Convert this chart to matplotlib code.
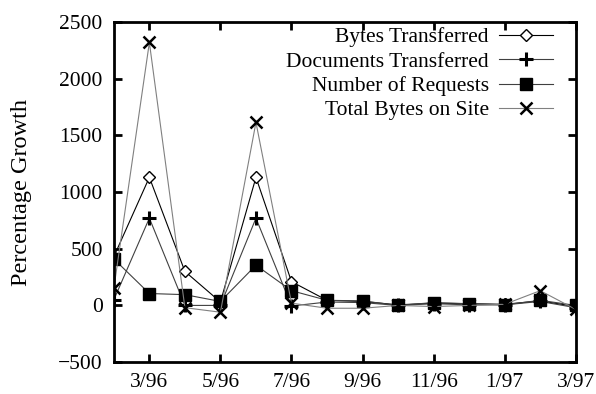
import matplotlib
matplotlib.use("Agg")
import matplotlib.pyplot as plt

months = ["2/96", "3/96", "4/96", "5/96", "6/96", "7/96", "8/96", "9/96",
          "10/96", "11/96", "12/96", "1/97", "2/97", "3/97"]
bytes_transferred = [430, 1130, 300, 30, 1130, 210, 45, 35, 5, 20, 15, 10, 40, -10]
documents_transferred = [50, 770, 0, 0, 770, -5, 30, 25, 0, 15, 5, 5, 35, -20]
number_of_requests = [410, 105, 95, 35, 355, 130, 45, 40, 0, 25, 15, 5, 45, 0]
total_bytes_on_site = [150, 2320, -20, -60, 1615, 20, -25, -25, 0, -10, 0, 10, 130, -35]
tick_labels = ["3/96", "5/96", "7/96", "9/96", "11/96", "1/97", "3/97"]
yticks = [-500, 0, 500, 1000, 1500, 2000, 2500]

plt.rcParams['font.family'] = ['Liberation Serif', 'DejaVu Serif']

fig = plt.figure(figsize=(5.96, 3.94), dpi=100)
ax = fig.add_axes([0.191, 0.081, 0.775, 0.863])

x = list(range(len(months)))
gray = '#808080'
ax.plot(x, bytes_transferred, color='black', lw=0.8, marker='D', markersize=6,
        markerfacecolor='white', markeredgecolor='black', markeredgewidth=1.0,
        label='Bytes Transferred')
ax.plot(x, documents_transferred, color='#404040', lw=0.8, marker='+', markersize=10,
        markeredgecolor='black', markeredgewidth=2.2, label='Documents Transferred')
ax.plot(x, number_of_requests, color='#404040', lw=0.8, marker='s', markersize=8.5,
        markerfacecolor='black', markeredgecolor='black', label='Number of Requests')
ax.plot(x, total_bytes_on_site, color=gray, lw=0.8, marker='x', markersize=9,
        markeredgecolor='black', markeredgewidth=1.8, label='Total Bytes on Site')

ax.set_xlim(0, len(months) - 1)
ax.set_ylim(-500, 2500)
ax.set_yticks(yticks)
ax.set_xticks([months.index(t) for t in tick_labels])
ax.set_xticklabels(tick_labels)
ax.tick_params(direction='in', length=6, width=2, top=True, right=True,
               labelsize=15.5, pad=8)
for s in ax.spines.values():
    s.set_linewidth(2)
ax.set_ylabel('Percentage Growth', fontsize=17.5)
ax.yaxis.set_label_coords(-0.178, 0.5)

leg = ax.legend(loc='upper right', frameon=False, fontsize=15.5, markerfirst=False,
                handlelength=2.5, labelspacing=0.2, borderaxespad=0.0,
                handletextpad=0.5, bbox_to_anchor=(0.97, 1.01))
for t in leg.get_texts():
    t.set_ha('right')
leg._legend_box.align = 'right'

fig.savefig('out.png', dpi=100)
